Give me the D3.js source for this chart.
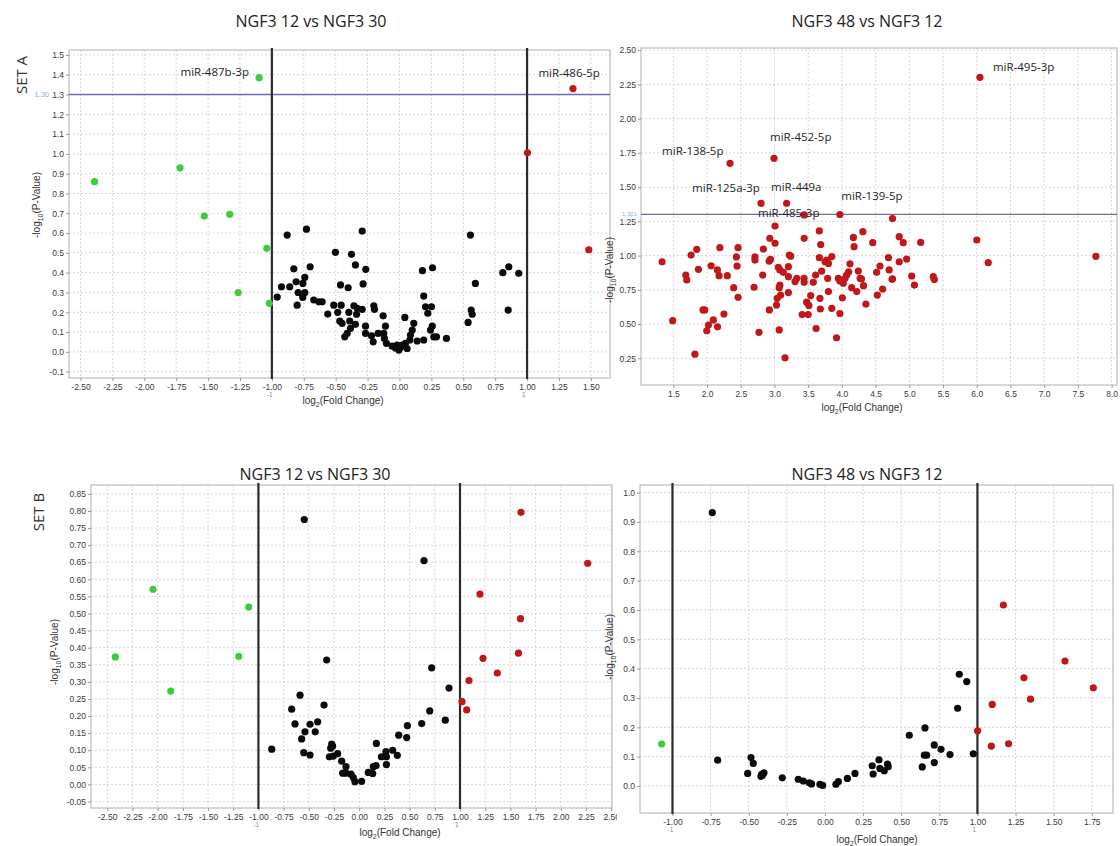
<!DOCTYPE html>
<html><head><meta charset="utf-8">
<script src="https://cdn.jsdelivr.net/npm/d3@7/dist/d3.min.js"></script>
<style>body{margin:0;background:#fff}</style>
</head><body>
<svg id="c" width="1120" height="846"></svg>
<script>
// ---------- DATA ----------
// Panel A1: NGF3 12 vs NGF3 30 (Set A)  [log2FC, -log10 p]
const a1Green = [[-1.10,1.385],[-2.39,0.86],[-1.72,0.93],[-1.53,0.686],[-1.33,0.695],[-1.04,0.523],[-1.264,0.30],[-1.02,0.245]];
const a1Red = [[1.36,1.33],[1.003,1.006],[1.484,0.516]];
const a1Black = [[-0.88,0.59],[-0.729,0.62],[-0.292,0.61],[0.556,0.59],
 [-0.828,0.42],[-0.70,0.43],[-0.742,0.376],[-0.81,0.354],[-0.925,0.329],[-0.86,0.329],[-0.958,0.277],[-0.794,0.30],[-0.742,0.30],[-0.758,0.275],[-0.802,0.236],[-0.672,0.262],[-0.632,0.253],[-0.606,0.253],[-0.757,0.346],
 [-0.502,0.503],[-0.376,0.493],[-0.345,0.439],[-0.264,0.417],[-0.462,0.338],[-0.402,0.324],[-0.285,0.343],
 [-0.515,0.236],[-0.562,0.191],[-0.484,0.20],[-0.457,0.236],[-0.397,0.20],[-0.357,0.233],[-0.331,0.22],[-0.292,0.215],
 [-0.468,0.156],[-0.45,0.144],[-0.39,0.156],[-0.345,0.139],[-0.384,0.119],[-0.41,0.093],[-0.429,0.076],[-0.336,0.19],[-0.266,0.13],[-0.266,0.093],
 [-0.201,0.233],[-0.196,0.215],[-0.128,0.182],[-0.11,0.13],[-0.167,0.093],[-0.219,0.081],[-0.206,0.051],[-0.123,0.093],[-0.118,0.068],[-0.102,0.043],
 [-0.057,0.029],[-0.031,0.02],[-0.005,0.009],[0.008,0.022],[-0.018,0.034],[0.021,0.034],[0.047,0.043],[0.081,0.06],[0.086,0.085],[0.10,0.11],[0.042,0.174],[0.112,0.144],[0.06,0.017],[0.139,0.055],[0.19,0.06],
 [0.19,0.282],[0.18,0.41],[0.259,0.425],[0.204,0.228],[0.251,0.228],[0.222,0.195],[0.257,0.13],[0.243,0.11],[0.269,0.076],[0.29,0.076],[0.368,0.068],
 [0.595,0.346],[0.562,0.211],[0.57,0.19],[0.538,0.149],
 [0.81,0.40],[0.857,0.43],[0.935,0.397],[0.852,0.211]];
const a1Labels = [["miR-487b-3p",-1.716,1.394],["miR-486-5p",1.089,1.389]];

// Panel A2: NGF3 48 vs NGF3 12 (Set A)
const a2Red = [[6.047,2.302],[2.34,1.674],[2.993,1.71],[2.80,1.382],[3.18,1.382],[3.44,1.297],[3.97,1.30],[4.75,1.27],
 [1.333,0.955],[1.49,0.525],[1.82,0.28],[1.684,0.858],[1.699,0.822],[1.763,1.004],[1.847,1.046],[1.872,0.90],[2.06,0.926],[2.153,0.895],[2.178,0.853],[2.30,0.853],[2.19,1.058],[1.94,0.603],[1.965,0.603],[2.25,0.573],[2.093,0.53],[2.02,0.493],[1.995,0.451],[2.155,0.48],
 [2.395,0.766],[2.46,0.695],[2.435,0.99],[2.445,0.924],[2.46,1.058],[2.71,0.99],[2.71,0.967],[2.697,0.769],[2.835,1.048],[2.825,0.858],[2.77,0.44],[2.92,0.96],[2.94,0.972],[2.93,1.126],[3.008,1.216],[3.008,1.09],[2.924,0.603],
 [3.057,0.914],[3.08,0.895],[3.13,0.878],[3.206,0.919],[3.206,0.846],[3.22,1.004],[3.24,0.996],[3.08,0.785],[3.07,0.766],[3.09,0.712],[3.04,0.688],[3.03,0.639],[3.206,0.73],[3.07,0.457],[3.156,0.254],
 [3.305,0.81],[3.33,0.834],[3.438,0.834],[3.44,0.805],[3.44,1.126],[3.576,0.805],[3.61,0.858],[3.537,0.708],[3.477,0.66],[3.51,0.636],[3.41,0.569],[3.5,0.569],[3.617,0.467],
 [3.665,1.18],[3.685,1.081],[3.665,0.985],[3.70,0.887],[3.75,0.955],[3.775,0.967],[3.80,0.943],[3.85,0.993],[3.788,0.834],[3.80,0.737],[3.674,0.688],[3.68,0.61],[3.85,0.615],
 [4.006,0.692],[3.97,0.577],[3.92,0.40],[3.947,0.834],[3.97,0.815],[4.02,0.798],[4.046,0.834],[4.07,0.858],[4.10,0.882],[4.12,0.94],[4.17,1.133],[4.18,1.065],[4.243,0.887],[4.27,0.834],[4.31,1.175],[4.32,0.78],[4.22,0.737],[4.145,0.766],[4.356,0.646],
 [4.457,1.094],[4.515,0.878],[4.565,0.924],[4.525,0.712],[4.604,0.756],[4.69,0.985],[4.70,0.895],[4.744,0.827],[4.85,1.138],[4.85,0.955],
 [4.91,1.094],[5.168,1.096],[4.96,0.975],[4.29,0.83],[4.75,0.83],[5.035,0.851],[5.075,0.785],[5.355,0.846],[5.37,0.825],[6.0,1.114],[6.17,0.948],[7.767,0.995]];
const a2Labels = [["miR-495-3p",6.24,2.348],["miR-138-5p",1.333,1.735],["miR-452-5p",2.934,1.837],["miR-125a-3p",1.778,1.465],["miR-449a",2.949,1.472],["miR-485-3p",2.756,1.282],["miR-139-5p",3.99,1.406]];

// Panel B1: NGF3 12 vs NGF3 30 (Set B)
const b1Green = [[-2.42,0.373],[-2.046,0.571],[-1.87,0.273],[-1.195,0.375],[-1.096,0.519]];
const b1Red = [[1.605,0.796],[2.267,0.647],[1.198,0.557],[1.60,0.485],[1.58,0.384],[1.228,0.369],[1.37,0.326],[1.089,0.304],[1.02,0.242],[1.066,0.218]];
const b1Black = [[-0.545,0.775],[0.643,0.655],[-0.868,0.103],[-0.323,0.364],[-0.587,0.261],[-0.67,0.22],[-0.349,0.232],[-0.637,0.177],[-0.488,0.176],[-0.412,0.183],[-0.538,0.154],[-0.436,0.154],[-0.571,0.133],[-0.55,0.093],[-0.488,0.086],[-0.273,0.118],[-0.264,0.112],[-0.283,0.106],[-0.296,0.081],[-0.257,0.083],[-0.214,0.09],[-0.174,0.068],[-0.131,0.052],[-0.164,0.033],[-0.131,0.033],[-0.081,0.030],[-0.058,0.02],[-0.042,0.008],[0.024,0.009],[0.09,0.035],[0.134,0.032],[0.14,0.052],[0.167,0.055],[0.17,0.12],[0.22,0.081],[0.27,0.081],[0.265,0.096],[0.27,0.058],[0.332,0.10],[0.378,0.085],[0.392,0.144],[0.471,0.137],[0.478,0.172],[0.62,0.178],[0.70,0.215],[0.719,0.341],[0.854,0.188],[0.891,0.282]];

// Panel B2: NGF3 48 vs NGF3 12 (Set B)
const b2Green = [[-1.071,0.143]];
const b2Red = [[1.001,0.188],[1.17,0.617],[1.574,0.426],[1.305,0.369],[1.76,0.335],[1.348,0.296],[1.097,0.278],[1.204,0.144],[1.091,0.136]];
const b2Black = [[-0.739,0.932],[-0.704,0.088],[-0.507,0.043],[-0.485,0.097],[-0.47,0.077],[-0.415,0.04],[-0.41,0.037],[-0.42,0.033],[-0.40,0.045],[-0.28,0.028],[-0.175,0.023],[-0.142,0.017],[-0.103,0.011],[-0.088,0.007],[-0.033,0.006],[-0.015,0.002],[0.072,0.006],[0.088,0.015],[0.147,0.026],[0.197,0.043],[0.31,0.069],[0.316,0.041],[0.354,0.089],[0.36,0.06],[0.389,0.052],[0.41,0.075],[0.415,0.066],[0.553,0.173],[0.656,0.198],[0.638,0.065],[0.652,0.105],[0.667,0.105],[0.717,0.14],[0.717,0.08],[0.761,0.125],[0.82,0.107],[0.87,0.265],[0.881,0.381],[0.93,0.356],[0.973,0.11]];

// Tick values
const a1XTicks = [-2.5,-2.25,-2,-1.75,-1.5,-1.25,-1,-0.75,-0.5,-0.25,0,0.25,0.5,0.75,1,1.25,1.5];
const a1YTicks = [-0.1,0,0.1,0.2,0.3,0.4,0.5,0.6,0.7,0.8,0.9,1.0,1.1,1.2,1.3,1.4,1.5];
const a2XTicks = [1.5,2,2.5,3,3.5,4,4.5,5,5.5,6,6.5,7,7.5,8];
const a2YTicks = [0.25,0.5,0.75,1,1.25,1.5,1.75,2,2.25,2.5];
const b1XTicks = [-2.5,-2.25,-2,-1.75,-1.5,-1.25,-1,-0.75,-0.5,-0.25,0,0.25,0.5,0.75,1,1.25,1.5,1.75,2,2.25,2.5];
const b1YTicks = [-0.05,0,0.05,0.1,0.15,0.2,0.25,0.3,0.35,0.4,0.45,0.5,0.55,0.6,0.65,0.7,0.75,0.8,0.85];
const b2XTicks = [-1,-0.75,-0.5,-0.25,0,0.25,0.5,0.75,1,1.25,1.5,1.75];
const b2YTicks = [0,0.1,0.2,0.3,0.4,0.5,0.6,0.7,0.8,0.9,1.0];

// ---------- DRAW ----------
const svg = d3.select('#c');
const GREEN = '#3fcb3f', RED = '#c0171b', BLACK = '#0b0b0b';
const fmt = f => d => d3.format(f)(d).replace('\u2212','-');

function panel(o){
  const [L,T,R,B] = o.box;
  const x = d3.scaleLinear().domain(o.xDom).range([L,R]);
  const y = d3.scaleLinear().domain(o.yDom).range([B,T]);
  const g = svg.append('g');
  if (o.clipR){
    const id = 'clip'+Math.round(L)+Math.round(T);
    svg.append('clipPath').attr('id',id).append('rect').attr('x',0).attr('y',T-40).attr('width',o.clipR).attr('height',B-T+80);
    g.attr('clip-path',`url(#${id})`);
  }
  // grid
  g.append('g').selectAll('line').data(o.xTicks).join('line')
    .attr('x1',d=>x(d)).attr('x2',d=>x(d)).attr('y1',T).attr('y2',B)
    .attr('stroke','#d6d6d6').attr('stroke-dasharray','2,2');
  g.append('g').selectAll('line').data(o.yTicks).join('line')
    .attr('y1',d=>y(d)).attr('y2',d=>y(d)).attr('x1',L).attr('x2',R)
    .attr('stroke','#d6d6d6').attr('stroke-dasharray','2,2');
  g.append('rect').attr('x',L).attr('y',T).attr('width',R-L).attr('height',B-T)
    .attr('fill','none').attr('stroke','#bdbdbd').attr('stroke-width',1.2);
  // axes
  const ax = g.append('g').attr('transform',`translate(0,${B})`)
    .call(d3.axisBottom(x).tickValues(o.xTicks).tickFormat(fmt(o.xFmt)).tickSize(3).tickPadding(3));
  const ay = g.append('g').attr('transform',`translate(${L},0)`)
    .call(d3.axisLeft(y).tickValues(o.yTicks).tickFormat(fmt(o.yFmt)).tickSize(3).tickPadding(2));
  [ax,ay].forEach(a=>{
    a.select('.domain').remove();
    a.selectAll('line').attr('stroke','#9a9a9a');
    a.selectAll('text').attr('font-family','Liberation Sans, Arial').attr('font-size',8.5).attr('fill','#3a3a3a');
  });
  // threshold line
  if (o.hline!=null){
    g.append('line').attr('x1',L).attr('x2',R).attr('y1',y(o.hline)).attr('y2',y(o.hline))
      .attr('stroke','#6b6bb0').attr('stroke-width',1.4);
    g.append('text').attr('x',L-o.hlabDx).attr('y',y(o.hline)).attr('dy','0.35em')
      .attr('text-anchor','end').attr('font-family','Liberation Sans, Arial')
      .attr('font-size',o.hlabSize).attr('fill','#6fa0d8').attr('fill-opacity',0.85).text(o.hlabel);
  }
  // fold-change lines
  o.vlines.forEach(v=>{
    g.append('line').attr('x1',x(v)).attr('x2',x(v)).attr('y1',T-2).attr('y2',B+1)
      .attr('stroke','#2b2b2b').attr('stroke-width',2.2);
    g.append('text').attr('x',x(v)-5).attr('y',B+19).attr('font-family','Liberation Sans, Arial')
      .attr('font-size',6.5).attr('fill','#8a8a8a').text(v<0?'-1':'1');
  });
  // points
  const pts = [].concat(
    (o.black||[]).map(d=>[d,BLACK]),
    (o.green||[]).map(d=>[d,GREEN]),
    (o.red||[]).map(d=>[d,RED]));
  g.append('g').selectAll('circle').data(pts).join('circle')
    .attr('cx',d=>x(d[0][0])).attr('cy',d=>y(d[0][1])).attr('r',3.6)
    .attr('fill',d=>d[1]);
  // miRNA labels
  g.append('g').selectAll('text').data(o.labels||[]).join('text')
    .attr('x',d=>x(d[1])).attr('y',d=>y(d[2]))
    .attr('font-family','Open Sans, Liberation Sans, Arial').attr('font-size',11.5)
    .attr('fill','#1e1e1e').text(d=>d[0]);
  // titles & axis labels
  svg.append('text').attr('x',o.title[1]).attr('y',o.title[2]).attr('text-anchor','middle')
    .attr('font-family','Open Sans, Liberation Sans, Arial').attr('font-size',16).attr('fill','#222').text(o.title[0]);
  svg.append('text').attr('x',o.xlab[0]).attr('y',o.xlab[1]).attr('text-anchor','middle')
    .attr('font-family','Liberation Sans, Arial').attr('font-size',10).attr('fill','#333')
    .call(t=>{t.append('tspan').text('log');t.append('tspan').attr('font-size',7).attr('dy',2.5).text('2');t.append('tspan').attr('dy',-2.5).text('(Fold Change)');});
  svg.append('text').attr('transform',`translate(${o.ylab[0]},${o.ylab[1]}) rotate(-90)`).attr('text-anchor','middle')
    .attr('font-family','Liberation Sans, Arial').attr('font-size',10).attr('fill','#333')
    .call(t=>{t.append('tspan').text('-log');t.append('tspan').attr('font-size',7).attr('dy',2.5).text('10');t.append('tspan').attr('dy',-2.5).text('(P-Value)');});
}

panel({box:[69,50,610,378], xDom:[-2.59,1.65], yDom:[-0.132,1.525],
  xTicks:a1XTicks, yTicks:a1YTicks, xFmt:'.2f', yFmt:'.1f',
  green:a1Green, red:a1Red, black:a1Black, labels:a1Labels,
  hline:1.30, hlabel:'1.30', hlabDx:20, hlabSize:7.5, vlines:[-1,1],
  title:['NGF3 12 vs NGF3 30',311,27], xlab:[343,404], ylab:[40,205]});

panel({box:[641,48,1117,385], xDom:[1.02,8.08], yDom:[0.055,2.516],
  xTicks:a2XTicks, yTicks:a2YTicks, xFmt:'.1f', yFmt:'.2f',
  red:a2Red, labels:a2Labels,
  hline:1.301, hlabel:'1.301', hlabDx:4, hlabSize:6, vlines:[],
  title:['NGF3 48 vs NGF3 12',867,27], xlab:[862,411], ylab:[613,270]});

panel({box:[91,485,612,808], xDom:[-2.661,2.508], yDom:[-0.069,0.876],
  xTicks:b1XTicks, yTicks:b1YTicks, xFmt:'.2f', yFmt:'.2f',
  green:b1Green, red:b1Red, black:b1Black, vlines:[-1,1], clipR:617,
  title:['NGF3 12 vs NGF3 30',315,480], xlab:[400,836], ylab:[58,652]});

panel({box:[640,485,1113,813], xDom:[-1.213,1.889], yDom:[-0.092,1.026],
  xTicks:b2XTicks, yTicks:b2YTicks, xFmt:'.2f', yFmt:'.1f',
  green:b2Green, red:b2Red, black:b2Black, vlines:[-1,1],
  title:['NGF3 48 vs NGF3 12',867,480], xlab:[877,843], ylab:[613,647]});

// set labels
svg.append('text').attr('transform','translate(22,75) rotate(-90)').attr('text-anchor','middle').attr('dy','0.35em')
  .attr('font-family','Open Sans, Liberation Sans, Arial').attr('font-size',15).attr('fill','#333').text('SET A');
svg.append('text').attr('transform','translate(39,512) rotate(-90)').attr('text-anchor','middle').attr('dy','0.35em')
  .attr('font-family','Open Sans, Liberation Sans, Arial').attr('font-size',15).attr('fill','#333').text('SET B');
</script>
</body></html>
